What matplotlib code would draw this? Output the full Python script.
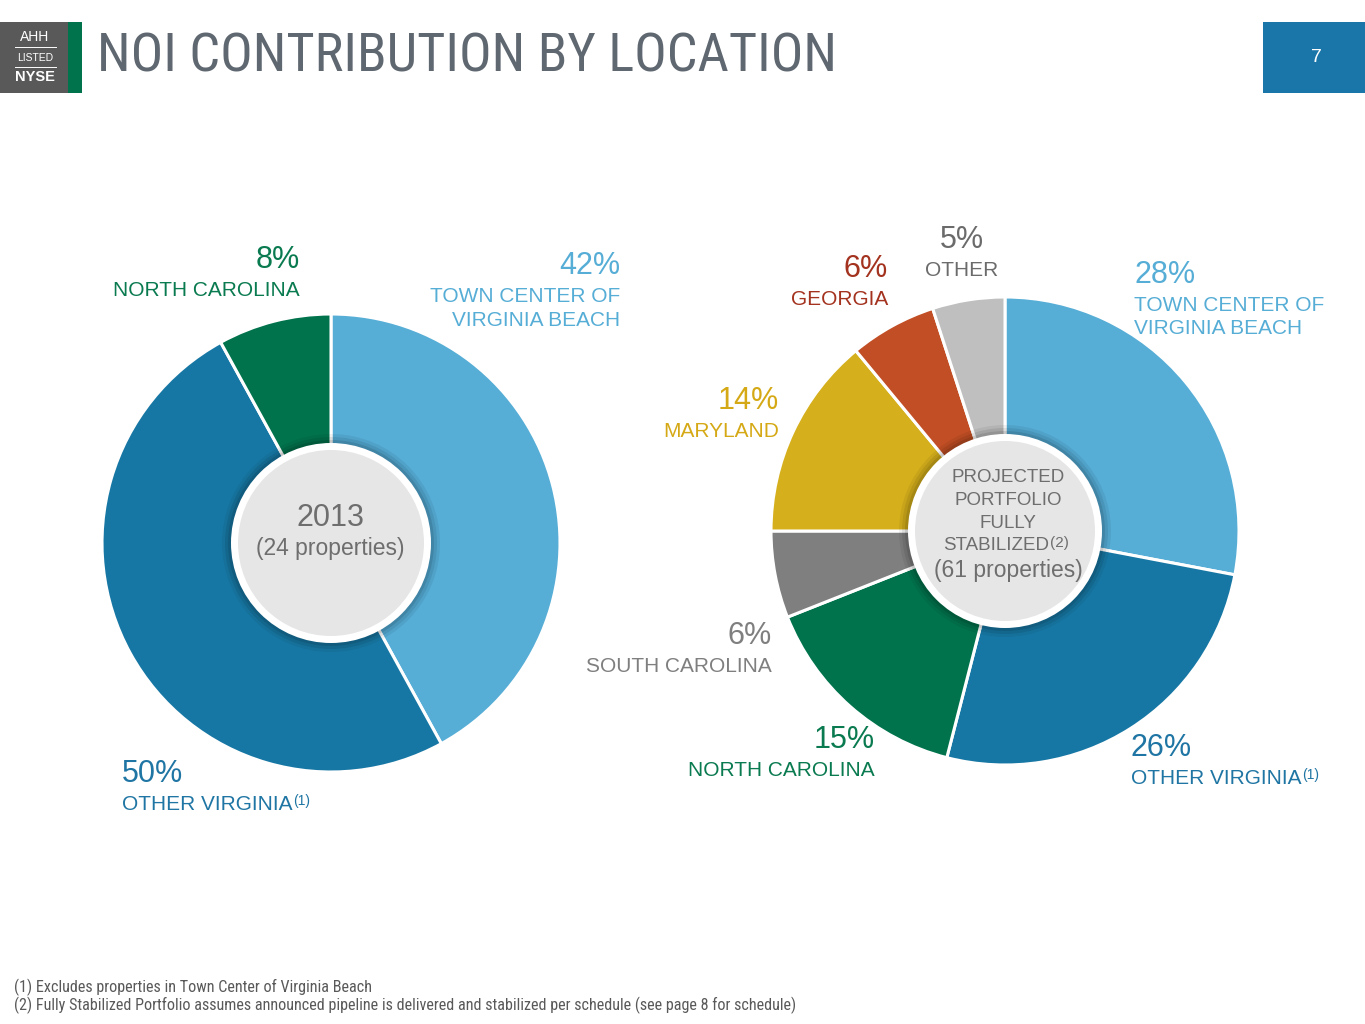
import matplotlib
matplotlib.use('Agg')
import matplotlib.pyplot as plt
from matplotlib import font_manager as fm
from matplotlib.patches import Circle, Rectangle

# data
left_names = ['TOWN CENTER OF\nVIRGINIA BEACH', 'OTHER VIRGINIA', 'NORTH CAROLINA']
left_values = [42, 50, 8]
left_colors = ['#56ADD6', '#1777A4', '#00734D']
left_text_colors = ['#56ADD6', '#1F75A3', '#0A7A50']

right_names = ['TOWN CENTER OF\nVIRGINIA BEACH', 'OTHER VIRGINIA', 'NORTH CAROLINA',
               'SOUTH CAROLINA', 'MARYLAND', 'GEORGIA', 'OTHER']
right_values = [28, 26, 15, 6, 14, 6, 5]
right_colors = ['#56ADD6', '#1777A4', '#00734D', '#7F7F7F', '#D5AF1C', '#C14E24', '#BFBFBF']
right_text_colors = ['#56ADD6', '#1F75A3', '#0A7A50', '#7F7F7F', '#D5A915', '#A3321E', '#6B6B6B']

W, H = 1365, 1024
fig = plt.figure(figsize=(W / 100, H / 100), dpi=100)
ax = fig.add_axes([0, 0, 1, 1])
FONT = ['Liberation Sans', 'DejaVu Sans']

# a condensed sans face for the title / footnotes, if one is installed
prefs = ['Roboto Condensed', 'Liberation Sans Narrow', 'Open Sans Condensed',
         'DejaVu Sans', 'Noto Sans', 'Open Sans', 'Roboto']
NARROW = dict(family=['Roboto', 'DejaVu Sans'])
found = False
for p in prefs:
    for f in fm.fontManager.ttflist:
        cond = f.stretch in ('condensed', 'semi-condensed', 'extra-condensed') or \
            'Condensed' in f.name or 'Narrow' in f.name
        if f.name == p and cond and f.style == 'normal' and f.weight == 400:
            NARROW = dict(family=[f.name, 'DejaVu Sans'], stretch=f.stretch)
            found = True
            break
    if found:
        break

def Y(py):
    return H - py

def donut(cx, cy, r, values, colors, hole):
    ax.pie(values, colors=colors, startangle=90, counterclock=False,
           center=(cx, Y(cy)), radius=r,
           wedgeprops=dict(edgecolor='white', linewidth=2.2))
    for rr, a in [(hole + 9, 0.06), (hole + 6, 0.08), (hole + 3, 0.1)]:
        ax.add_patch(Circle((cx, Y(cy)), rr, color='black', alpha=a, lw=0, zorder=3))
    ax.add_patch(Circle((cx, Y(cy)), hole, color='white', lw=0, zorder=4))
    ax.add_patch(Circle((cx, Y(cy)), hole - 7, color='#E6E6E6', lw=0, zorder=5))

donut(331, 543, 229, left_values, left_colors, 100)
donut(1005, 531, 234, right_values, right_colors, 97)

ax.set_xlim(0, W)
ax.set_ylim(0, H)
ax.set_aspect('auto')
ax.axis('off')

renderer = fig.canvas.get_renderer()

def sup(t, s, color, size=10):
    bb = t.get_window_extent(renderer=renderer)
    x, y = ax.transData.inverted().transform((bb.x1 + 1, bb.y1 + 1))
    ax.text(x, y, s, color=color, fontsize=size, family=FONT, ha='left', va='top', zorder=6)

def label(x, y, value, name, color, ha, footnote=None):
    ax.text(x, Y(y), f'{value}%', color=color, fontsize=22, family=FONT,
            ha=ha, va='center', zorder=6)
    t = ax.text(x, Y(y + 21), name, color=color, fontsize=15, family=FONT,
                ha=ha, va='top', multialignment=ha, linespacing=1.3, zorder=6)
    if footnote:
        sup(t, footnote, color)

# left chart labels
label(620, 266, left_values[0], left_names[0], left_text_colors[0], 'right')
label(122, 774, left_values[1], left_names[1], left_text_colors[1], 'left', '(1)')
label(300, 260, left_values[2], left_names[2], left_text_colors[2], 'right')

# right chart labels
label(1134, 275, right_values[0], right_names[0], right_text_colors[0], 'left')
label(1131, 748, right_values[1], right_names[1], right_text_colors[1], 'left', '(1)')
label(875, 740, right_values[2], right_names[2], right_text_colors[2], 'right')
label(772, 636, right_values[3], right_names[3], right_text_colors[3], 'right')
label(779, 401, right_values[4], right_names[4], right_text_colors[4], 'right')
label(888, 269, right_values[5], right_names[5], right_text_colors[5], 'right')
label(962, 240, right_values[6], right_names[6], right_text_colors[6], 'center')

# centre texts
grey = '#6E6E6E'
ax.text(330, Y(518), '2013', color=grey, fontsize=22, family=FONT, ha='center', va='center', zorder=6)
ax.text(330, Y(549), '(24 properties)', color=grey, fontsize=16.5, family=FONT,
        ha='center', va='center', zorder=6)
for i, s in enumerate(['PROJECTED', 'PORTFOLIO', 'FULLY']):
    ax.text(1008, Y(478 + 22.7 * i), s, color=grey, fontsize=13.5, family=FONT,
            ha='center', va='center', zorder=6)
st = ax.text(996, Y(546), 'STABILIZED', color=grey, fontsize=13.5, family=FONT,
             ha='center', va='center', zorder=6)
sup(st, '(2)', grey, size=11)
ax.text(1008, Y(571), '(61 properties)', color=grey, fontsize=16.5, family=FONT,
        ha='center', va='center', zorder=6)

# header
ax.add_patch(Rectangle((0, Y(93)), 68, 71, color='#595959', lw=0))
ax.add_patch(Rectangle((68, Y(93)), 14, 71, color='#00734D', lw=0))
ax.text(35, Y(37), 'AHH', color='white', fontsize=10, family=FONT, ha='center', va='center')
ax.plot([15, 56], [Y(47), Y(47)], color='white', lw=0.7)
ax.text(35, Y(58), 'LISTED', color='white', fontsize=7.5, family=FONT, ha='center', va='center')
ax.plot([15, 56], [Y(67), Y(67)], color='white', lw=0.7)
ax.text(35, Y(77), 'NYSE', color='white', fontsize=10.5, family=FONT, weight='bold',
        ha='center', va='center')
title = ax.text(97, Y(57), 'NOI CONTRIBUTION BY LOCATION', color='#5F6770', fontsize=40,
                ha='left', va='center', **NARROW)
# fit the title to the width it takes on the slide
tw = title.get_window_extent(renderer=renderer).width
title.set_fontsize(min(44, 40 * 738 / tw))
ax.add_patch(Rectangle((1263, Y(93)), 102, 71, color='#1A75A8', lw=0))
ax.text(1316, Y(58), '7', color='white', fontsize=14, family=FONT, ha='center', va='center')

# footnotes
f1 = ax.text(14, Y(987), '(1) Excludes properties in Town Center of Virginia Beach', color='#595959',
             fontsize=10.5, ha='left', va='center', **NARROW)
f2 = ax.text(14, Y(1005), '(2) Fully Stabilized Portfolio assumes announced pipeline is delivered and '
             'stabilized per schedule (see page 8 for schedule)', color='#595959',
             fontsize=10.5, ha='left', va='center', **NARROW)
fw = f2.get_window_extent(renderer=renderer).width
fs = min(12, 10.5 * 789 / fw)
f1.set_fontsize(fs)
f2.set_fontsize(fs)

fig.savefig('out.png', dpi=100)
